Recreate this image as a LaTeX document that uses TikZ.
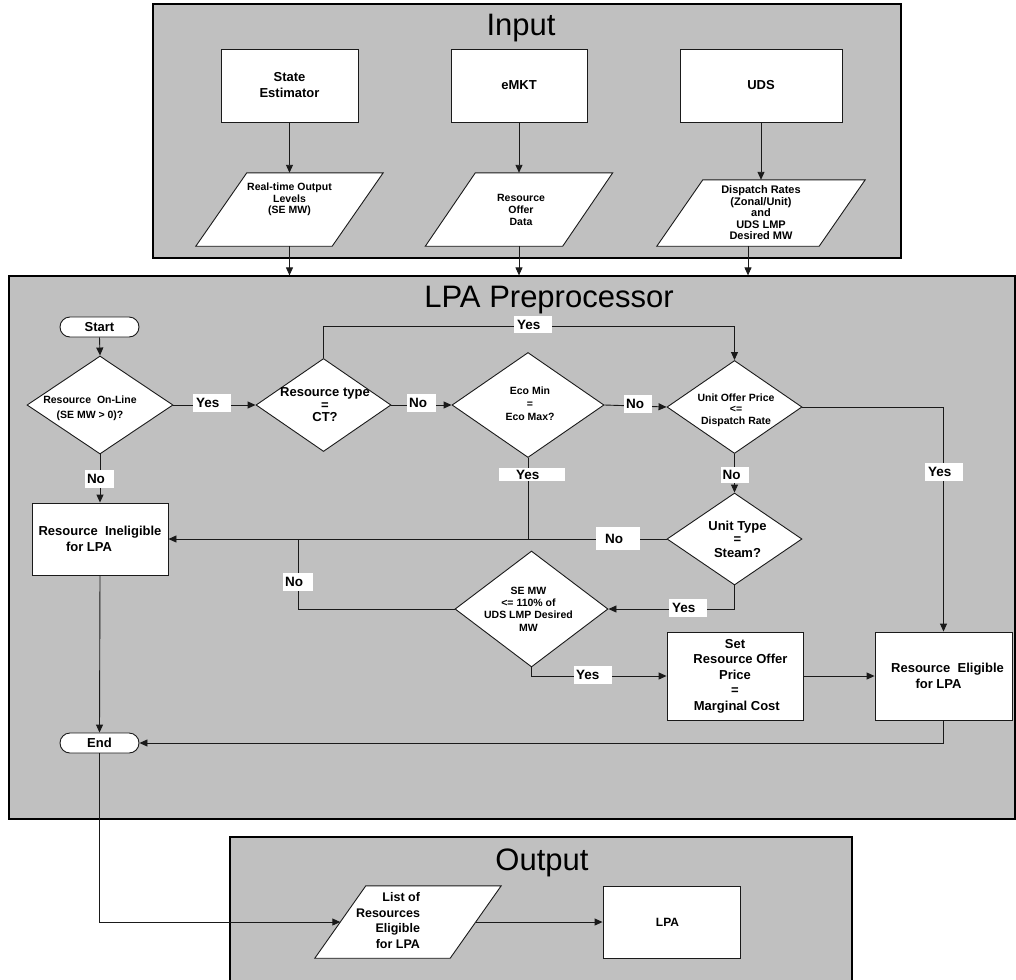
\documentclass[tikz,border=0pt]{standalone}
\usepackage{fontspec}
\setmainfont{Liberation Sans}
\usetikzlibrary{shapes.geometric,arrows.meta}
\newcommand{\fsz}[2]{\fontsize{#1}{#2}\selectfont}
\definecolor{panelgray}{HTML}{C0C0C0}
\definecolor{linegray}{HTML}{1A1A1A}
\pgfdeclarelayer{bg}
\pgfdeclarelayer{mid}
\pgfsetlayers{bg,mid,main}
\newcommand{\parapath}[2]{\begin{pgfonlayer}{mid}\draw[pshape] ([xshift=#2pt]#1.north west) -- (#1.north east) -- ([xshift=-#2pt]#1.south east) -- (#1.south west) -- cycle;\end{pgfonlayer}}
\begin{document}
\begin{tikzpicture}[x=1pt,y=-1pt,
  panel/.style={draw=black, line width=1.2pt, fill=panelgray, rectangle, inner sep=0},
  ptitle/.style={font=\fsz{31}{31}, anchor=base, inner sep=0},
  box/.style={draw=linegray, line width=0.9pt, fill=white, rectangle, inner sep=0, align=center, font=\bfseries\fsz{13}{16}},
  term/.style={draw=linegray, line width=0.9pt, fill=white, rectangle, rounded corners=10pt, inner sep=0, minimum width=79, minimum height=20, font=\bfseries\fsz{13}{13}},
  dia/.style={draw=linegray, line width=0.9pt, fill=white, diamond, inner sep=0},
  para/.style={draw=none, rectangle, inner sep=0},
  pshape/.style={draw=linegray, line width=0.9pt, fill=white},
  txt/.style={align=center, inner sep=0, font=\bfseries\fsz{10.5}{12}},
  yn/.style={fill=white, inner ysep=0, align=left, font=\bfseries\fsz{13.5}{14}},
  arr/.style={draw=linegray, line width=0.9pt, -{Triangle[length=8pt,width=7pt]}},
  ln/.style={draw=linegray, line width=0.9pt}]
\useasboundingbox (0,0) rectangle (1016,979);

% panels
\begin{pgfonlayer}{bg}
\node[panel, minimum width=748, minimum height=254] (inp) at (527,131) {};
\node[panel, minimum width=1006, minimum height=543] (lpap) at (512,547.5) {};
\node[panel, minimum width=622, minimum height=146] (outp) at (541,910) {};
\end{pgfonlayer}
\node[ptitle] (tin) at (521,36) {Input};
\node[ptitle] (tlpa) at (549,307) {LPA Preprocessor};
\node[ptitle] (tout) at (542,870) {Output};

% input column
\node[box, minimum width=137, minimum height=73] (state) at (289.5,85.5) {State\\Estimator};
\node[box, minimum width=136, minimum height=73] (emkt) at (519,85.5) {eMKT};
\node[box, minimum width=162, minimum height=73] (uds) at (761,85.5) {UDS};

\node[para, minimum width=187, minimum height=73,
  label={[txt, font=\bfseries\fsz{10.5}{11.5}, yshift=10pt]center:{Real-time Output\\Levels\\(SE MW)}}] (p1) at (289.5,209.5) {};
\parapath{p1}{51}
\node[para, minimum width=187, minimum height=73,
  label={[txt, font=\bfseries\fsz{10.5}{12}, xshift=2pt]center:{Resource\\Offer\\Data}}] (p2) at (519,209.5) {};
\parapath{p2}{50}
\node[para, minimum width=208, minimum height=66,
  label={[txt, font=\bfseries\fsz{11}{11.5}]center:{Dispatch Rates\\(Zonal/Unit)\\and\\UDS LMP\\Desired MW}}] (p3) at (761,213) {};
\parapath{p3}{46}

% preprocessor
\node[term] (start) at (99.5,327) {Start};
\node[dia, minimum width=146, minimum height=98,
  label={[txt, font=\bfseries\fsz{10.5}{15}, xshift=-10pt, yshift=-3pt]center:{Resource\ \ On-Line\\(SE MW > 0)?}}] (d1) at (100,405) {};
\node[dia, minimum width=135, minimum height=93,
  label={[txt, font=\bfseries\fsz{13}{12.5}, xshift=1.5pt]center:{Resource type\\=\\CT?}}] (d2) at (323.5,405) {};
\node[dia, minimum width=152, minimum height=105,
  label={[txt, font=\bfseries\fsz{10.5}{13}, xshift=2pt, yshift=1pt]center:{Eco Min\\=\\Eco Max?}}] (d3) at (528,405) {};
\node[dia, minimum width=135, minimum height=93,
  label={[txt, font=\bfseries\fsz{10.5}{11.5}, xshift=1.5pt, yshift=-3pt]center:{Unit Offer Price\\<=\\Dispatch Rate}}] (d4) at (734.5,407) {};
\node[dia, minimum width=135, minimum height=92,
  label={[txt, font=\bfseries\fsz{13}{13.5}, xshift=3pt]center:{Unit Type\\=\\Steam?}}] (d5) at (734.5,539) {};
\node[dia, minimum width=153, minimum height=116,
  label={[txt, font=\bfseries\fsz{10.5}{12.3}, xshift=-3pt]center:{SE MW\\<= 110\% of\\UDS LMP Desired\\MW}}] (d6) at (531.5,609) {};

\node[box, minimum width=136, minimum height=72] (inel) at (100,539) {Resource\ \ Ineligible\\for LPA\hspace*{22pt}};
\node[box, minimum width=136, minimum height=88, font=\bfseries\fsz{13}{15.5}] (set) at (735,676) {Set\\\ \ \ Resource Offer\\Price\hspace*{12pt}\\=\\\ Marginal Cost};
\node[box, minimum width=137, minimum height=88, font=\bfseries\fsz{13}{15.5}] (elig) at (943.5,676) {Resource\ \ Eligible\hspace*{-8pt}\\for LPA\hspace*{10pt}};
\node[term] (endn) at (99.5,743) {End};

% output
\node[para, minimum width=186, minimum height=72,
  label={[txt, align=right, font=\bfseries\fsz{12.5}{15.7}, xshift=-20pt, yshift=1.5pt]center:{List of\\Resources\\Eligible\\for LPA}}] (list) at (408,922) {};
\parapath{list}{51}
\node[box, minimum width=137, minimum height=72, font=\bfseries\fsz{12}{13}] (lpa) at (671.5,922) {LPA\hspace*{8pt}};

% connectors
\draw[arr] (state.south) -- (p1.north);
\draw[arr] (emkt.south) -- (p2.north);
\draw[arr] (uds.south) -- (p3.north);
\draw[arr] (p1.south) -- (p1.south |- lpap.north);
\draw[arr] (p2.south) -- (p2.south |- lpap.north);
\draw[arr] ([xshift=-13pt]p3.south) -- ([xshift=-13pt]p3.south |- lpap.north);

\draw[arr] (start.south) -- (d1.north);
\draw[arr] (d1.east) -- (d2.west);
\draw[arr] (d2.east) -- (d3.west);
\draw[arr] (d3.east) -- (d4.west);
\coordinate (ctop) at (0,326);
\draw[arr] (d2.north) |- (ctop -| d4.north) -- (d4.north);
\draw[arr] (d1.south) -- (inel.north);
\draw[arr] (d5.west) -- (inel.east);
\draw[ln] (d3.south) -- (d3.south |- inel.east);
\coordinate (jn) at (298,539);
\draw[ln] (d6.west) -| (jn);
\draw[arr] (d4.south) -- (d5.north);
\draw[arr] (d4.east) -| (elig.north);
\draw[arr] (d5.south) |- (d6.east);
\draw[arr] (d6.south) |- (set.west);
\draw[arr] (set.east) -- (elig.west);
\draw[arr] (elig.south) |- (endn.east);
\draw[arr] (inel.south) -- (endn.north);
\draw[arr] (endn.south) |- ([xshift=25.5pt]list.west);
\draw[arr] ([xshift=-25.5pt]list.east) -- (lpa.west);

% yes / no labels
\node[yn, minimum width=38, minimum height=18, text width=32pt, inner xsep=3pt] (y1) at (212,403) {Yes};
\node[yn, minimum width=29, minimum height=18, text width=25pt, inner xsep=2pt] (n1) at (99.5,479) {No};
\node[yn, minimum width=29, minimum height=18, text width=25pt, inner xsep=2pt] (n2) at (421.5,403) {No};
\node[yn, minimum width=28, minimum height=18, text width=24pt, inner xsep=2pt] (n3) at (638,404) {No};
\node[yn, minimum width=38, minimum height=17, text width=32pt, inner xsep=3pt] (y2) at (533,324.5) {Yes};
\node[yn, minimum width=66, minimum height=13, text width=32pt, inner xsep=17pt] (y3) at (532,474.5) {Yes};
\node[yn, minimum width=28, minimum height=16, text width=25pt, inner xsep=1.5pt] (n4) at (735,475) {No};
\node[yn, minimum width=38, minimum height=18, text width=32pt, inner xsep=3pt] (y4) at (944,472) {Yes};
\node[yn, minimum width=44, minimum height=23, text width=26pt, inner xsep=9pt] (n5) at (618,538.5) {No};
\node[yn, minimum width=30, minimum height=18, text width=26pt, inner xsep=2pt] (n6) at (298,582) {No};
\node[yn, minimum width=38, minimum height=18, text width=32pt, inner xsep=3pt] (y5) at (688,608) {Yes};
\node[yn, minimum width=38, minimum height=18, text width=34pt, inner xsep=2pt] (y6) at (593,675) {Yes};
\end{tikzpicture}
\end{document}
